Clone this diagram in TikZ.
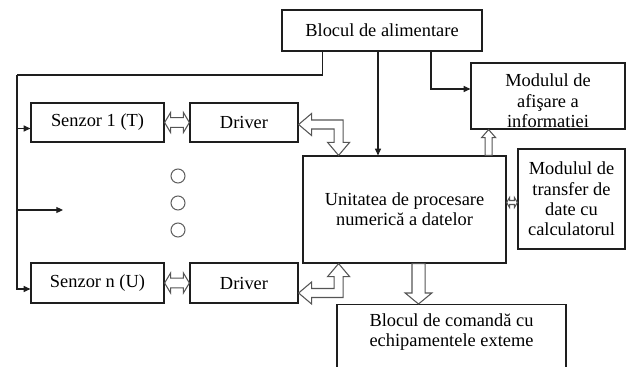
\documentclass[tikz,border=0pt]{standalone}
\usepackage{fontspec}
\setmainfont{Liberation Serif}
\usetikzlibrary{arrows.meta, calc}
\definecolor{boxline}{RGB}{30,30,30}
\definecolor{blkline}{RGB}{85,85,85}
\definecolor{dotline}{RGB}{95,95,95}

\begin{document}
\begin{tikzpicture}[x=0.75pt, y=-0.75pt,
  font=\fontsize{13.8}{15.3}\selectfont,
  box/.style={rectangle, draw=boxline, line width=0.9pt, align=center, inner sep=2pt},
  txt/.style={align=center, inner sep=0pt},
  wire/.style={line width=0.8pt, boxline},
  arr/.style={-{Triangle[length=5pt, width=4.5pt]}, line width=0.8pt, boxline},
  hollow/.style={draw=blkline, line width=0.8pt, line join=miter},
  dot/.style={circle, draw=dotline, line width=0.8pt, minimum size=10.5pt, inner sep=0pt},
  % block arrow, head at target: {head length}{head half width}{shaft half width}
  sarr/.style n args={3}{to path={
    ($(\tikztostart)!#3!90:(\tikztotarget)$)
    -- ($(\tikztotarget)!#1!(\tikztostart)!#3!-90:(\tikztostart)$)
    -- ($(\tikztotarget)!#1!(\tikztostart)!#2!-90:(\tikztostart)$)
    -- (\tikztotarget)
    -- ($(\tikztotarget)!#1!(\tikztostart)!#2!90:(\tikztostart)$)
    -- ($(\tikztotarget)!#1!(\tikztostart)!#3!90:(\tikztostart)$)
    -- ($(\tikztostart)!#3!-90:(\tikztotarget)$)
    -- cycle}},
  % block arrow, heads at both ends
  darr/.style n args={3}{to path={
    (\tikztostart)
    -- ($(\tikztostart)!#1!(\tikztotarget)!#2!90:(\tikztotarget)$)
    -- ($(\tikztostart)!#1!(\tikztotarget)!#3!90:(\tikztotarget)$)
    -- ($(\tikztotarget)!#1!(\tikztostart)!#3!-90:(\tikztostart)$)
    -- ($(\tikztotarget)!#1!(\tikztostart)!#2!-90:(\tikztostart)$)
    -- (\tikztotarget)
    -- ($(\tikztotarget)!#1!(\tikztostart)!#2!90:(\tikztostart)$)
    -- ($(\tikztotarget)!#1!(\tikztostart)!#3!90:(\tikztostart)$)
    -- ($(\tikztostart)!#1!(\tikztotarget)!#3!-90:(\tikztotarget)$)
    -- ($(\tikztostart)!#1!(\tikztotarget)!#2!-90:(\tikztotarget)$)
    -- cycle}},
]
  \useasboundingbox (0,0) rectangle (631,367);

  % Blocks
  \node[box, minimum width=150pt, minimum height=30.75pt] (alim) at (382,30.5) {Blocul de alimentare};
  \node[box, minimum width=99.75pt, minimum height=29.25pt] (sen1) at (97.5,122.5) {Senzor 1 (T)};
  \node[box, minimum width=81pt, minimum height=29.25pt] (drv1) at (244,122.5) {Driver};
  \node[box, minimum width=99.75pt, minimum height=30pt] (senn) at (97.5,283) {Senzor n (U)};
  \node[box, minimum width=81pt, minimum height=30pt] (drvn) at (244,283) {Driver};
  \node[box, minimum width=152.25pt, minimum height=80.25pt] (unit) at (404.5,209.5) {Unitatea de procesare\\numerică a datelor};
  \node[box, minimum width=115.5pt, minimum height=49.5pt] (disp) at (548,96) {};
  \node[box, minimum width=80.25pt, minimum height=75pt] (trans) at (571.5,199) {Modulul de\\transfer de\\date cu\\calculatorul};
  \node[box, minimum width=171.75pt, minimum height=75pt, anchor=north] (cmd) at (451.5,304) {};

  % Texts cut by their boxes
  \begin{scope}
    \clip (disp.south west) rectangle (disp.north east);
    \node[txt, anchor=north] (disptxt) at ($(disp.north)+(0,11.5)$) {Modulul de\\afişare a\\informatiei};
  \end{scope}
  \node[txt, anchor=north] (cmdtxt) at ($(cmd.north)+(0,9)$) {Blocul de comandă cu\\echipamentele exteme};

  % Dots between the sensors
  \foreach \y [count=\i] in {176,203,230}
    \node[dot] (dot\i) at (178,\y) {};

  % Supply lines
  \coordinate (bus) at (17,75);
  \draw[wire] ($(alim.south west)+(41,0)$) |- (bus);
  \draw[arr] (bus) |- ($(senn.west)+(0,6)$);
  \coordinate (in1) at ($(sen1.west)+(0,6)$);
  \draw[arr] (bus |- in1) -- (in1);
  \coordinate (mid) at (63,210);
  \draw[arr] (bus |- mid) -- (mid);
  \coordinate (a2u) at ($(alim.south)+(-4,0)$);
  \draw[arr] (a2u) -- (a2u |- unit.north);
  \coordinate (a2d) at ($(alim.south)+(49,0)$);
  \draw[arr] (a2d) |- ($(disp.west)+(0,-7)$);

  % Data paths
  \draw[hollow, darr={4.5pt}{7.5pt}{3.6pt}] (sen1.east) to (drv1.west);
  \draw[hollow, darr={4.5pt}{7.5pt}{3.6pt}] (senn.east) to (drvn.west);
  \coordinate (u2d) at ($(unit.north east)+(-18,0)$);
  \draw[hollow, sarr={6pt}{5.25pt}{2.6pt}] (u2d) to (u2d |- disp.south);
  \coordinate (u2t) at ($(unit.east)+(0,-7)$);
  \draw[hollow, darr={2.25pt}{3.75pt}{1.5pt}] (u2t) to (u2t -| trans.west);
  \coordinate (u2c) at ($(unit.south)+(14,0)$);
  \draw[hollow, sarr={8.25pt}{10pt}{4.9pt}] (u2c) to (u2c |- cmd.north);

  % Bent data paths between drivers and unit
  \coordinate (s1) at ($(drv1.east)+(0,2)$);
  \coordinate (k1) at ($(s1)+(40,0)$);
  \coordinate (t1) at (k1 |- unit.north);
  \draw[hollow] (s1) -- ($(s1)+(13,-11)$) -- ($(s1)+(13,-4.5)$) -- ($(k1)+(4.5,-4.5)$)
    -- ($(t1)+(4.5,-13)$) -- ($(t1)+(11,-13)$) -- (t1) -- ($(t1)+(-11,-13)$) -- ($(t1)+(-4.5,-13)$)
    -- ($(k1)+(-4.5,4.5)$) -- ($(s1)+(13,4.5)$) -- ($(s1)+(13,11)$) -- cycle;
  \coordinate (s2) at ($(drvn.east)+(0,10)$);
  \coordinate (k2) at ($(s2)+(40,0)$);
  \coordinate (t2) at (k2 |- unit.south);
  \draw[hollow] (s2) -- ($(s2)+(13,-11)$) -- ($(s2)+(13,-4.5)$) -- ($(k2)+(-4.5,-4.5)$)
    -- ($(t2)+(-4.5,13)$) -- ($(t2)+(-11,13)$) -- (t2) -- ($(t2)+(11,13)$) -- ($(t2)+(4.5,13)$)
    -- ($(k2)+(4.5,4.5)$) -- ($(s2)+(13,4.5)$) -- ($(s2)+(13,11)$) -- cycle;
\end{tikzpicture}
\end{document}
